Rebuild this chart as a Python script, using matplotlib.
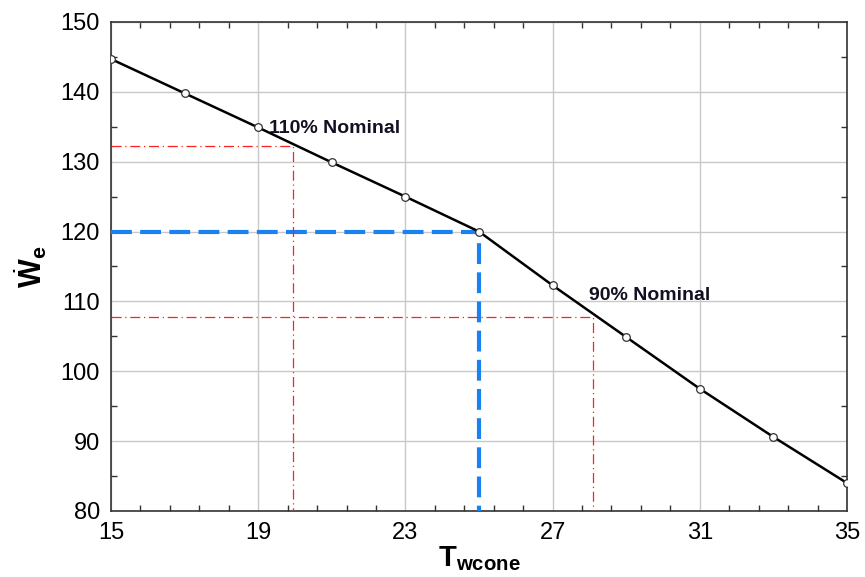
import matplotlib
matplotlib.use("Agg")
import matplotlib.pyplot as plt
import numpy as np

plt.rcParams['font.family'] = ['Liberation Sans', 'DejaVu Sans']
plt.rcParams['mathtext.fontset'] = 'custom'
plt.rcParams['mathtext.rm'] = 'Liberation Sans'
plt.rcParams['mathtext.bf'] = 'Liberation Sans:bold'

# data
t_wcone = [15, 17, 19, 21, 23, 25, 27, 29, 31, 33, 35]
w_e = [144.7, 139.8, 134.9, 129.9, 125, 120, 112.3, 104.9, 97.5, 90.6, 84.0]

nominal_t = 25
nominal_w = 120
high_t, high_w = 19.95, 132.2   # 110% nominal
low_t, low_w = 28.1, 107.7      # 90% nominal

x_ticks = [15, 19, 23, 27, 31, 35]
y_ticks = [80, 90, 100, 110, 120, 130, 140, 150]

fig = plt.figure(figsize=(8.65, 5.77), dpi=100)
ax = fig.add_axes([111 / 865, 1 - 511 / 577, 736 / 865, 489 / 577])

# reference lines
ax.plot([15, nominal_t, nominal_t], [nominal_w, nominal_w, 80],
        color='#1a82f0', linestyle=(0, (5, 2)), linewidth=3.0, zorder=3)
ax.plot([15, high_t, high_t], [high_w, high_w, 80],
        color='#ff2020', linestyle=(0, (8, 3, 1, 3)), linewidth=0.9, zorder=3)
ax.plot([15, low_t, low_t], [low_w, low_w, 80],
        color='#ff2020', linestyle=(0, (8, 3, 1, 3)), linewidth=0.9, zorder=3)

# main curve
ax.plot(t_wcone, w_e, color='black', linewidth=1.8, marker='o', markersize=5.5,
        markerfacecolor='white', markeredgecolor='#333333', markeredgewidth=0.9,
        zorder=4)

ax.text(19.3, 134.8, "110% Nominal", fontsize=14, fontweight='bold',
        color='#111122', va='center')
ax.text(28.0, 110.8, "90% Nominal", fontsize=14, fontweight='bold',
        color='#111122', va='center')

ax.set_xlim(15, 35)
ax.set_ylim(80, 150)
ax.set_xticks(x_ticks)
ax.set_yticks(y_ticks)
ax.set_xticks(np.arange(15, 35.01, 0.8), minor=True)
ax.set_yticks(np.arange(80, 150.01, 5), minor=True)
ax.grid(True, which='major', color='#c8c8c8', linewidth=1.0)
ax.set_axisbelow(True)

ax.tick_params(which='both', direction='in', top=True, right=True, labelsize=17)
ax.tick_params(which='major', length=0, pad=8)
ax.tick_params(which='minor', length=4, width=1, color='#333333')
for s in ax.spines.values():
    s.set_linewidth(1.2)
    s.set_color('#333333')

ax.set_xlabel(r'$\mathbf{T}_{\mathbf{wcone}}$', fontsize=21, labelpad=0)
ax.set_ylabel(r'$\dot{\mathbf{W}}_{\mathbf{e}}$', fontsize=22, labelpad=8)

fig.savefig("out.png", dpi=100)
